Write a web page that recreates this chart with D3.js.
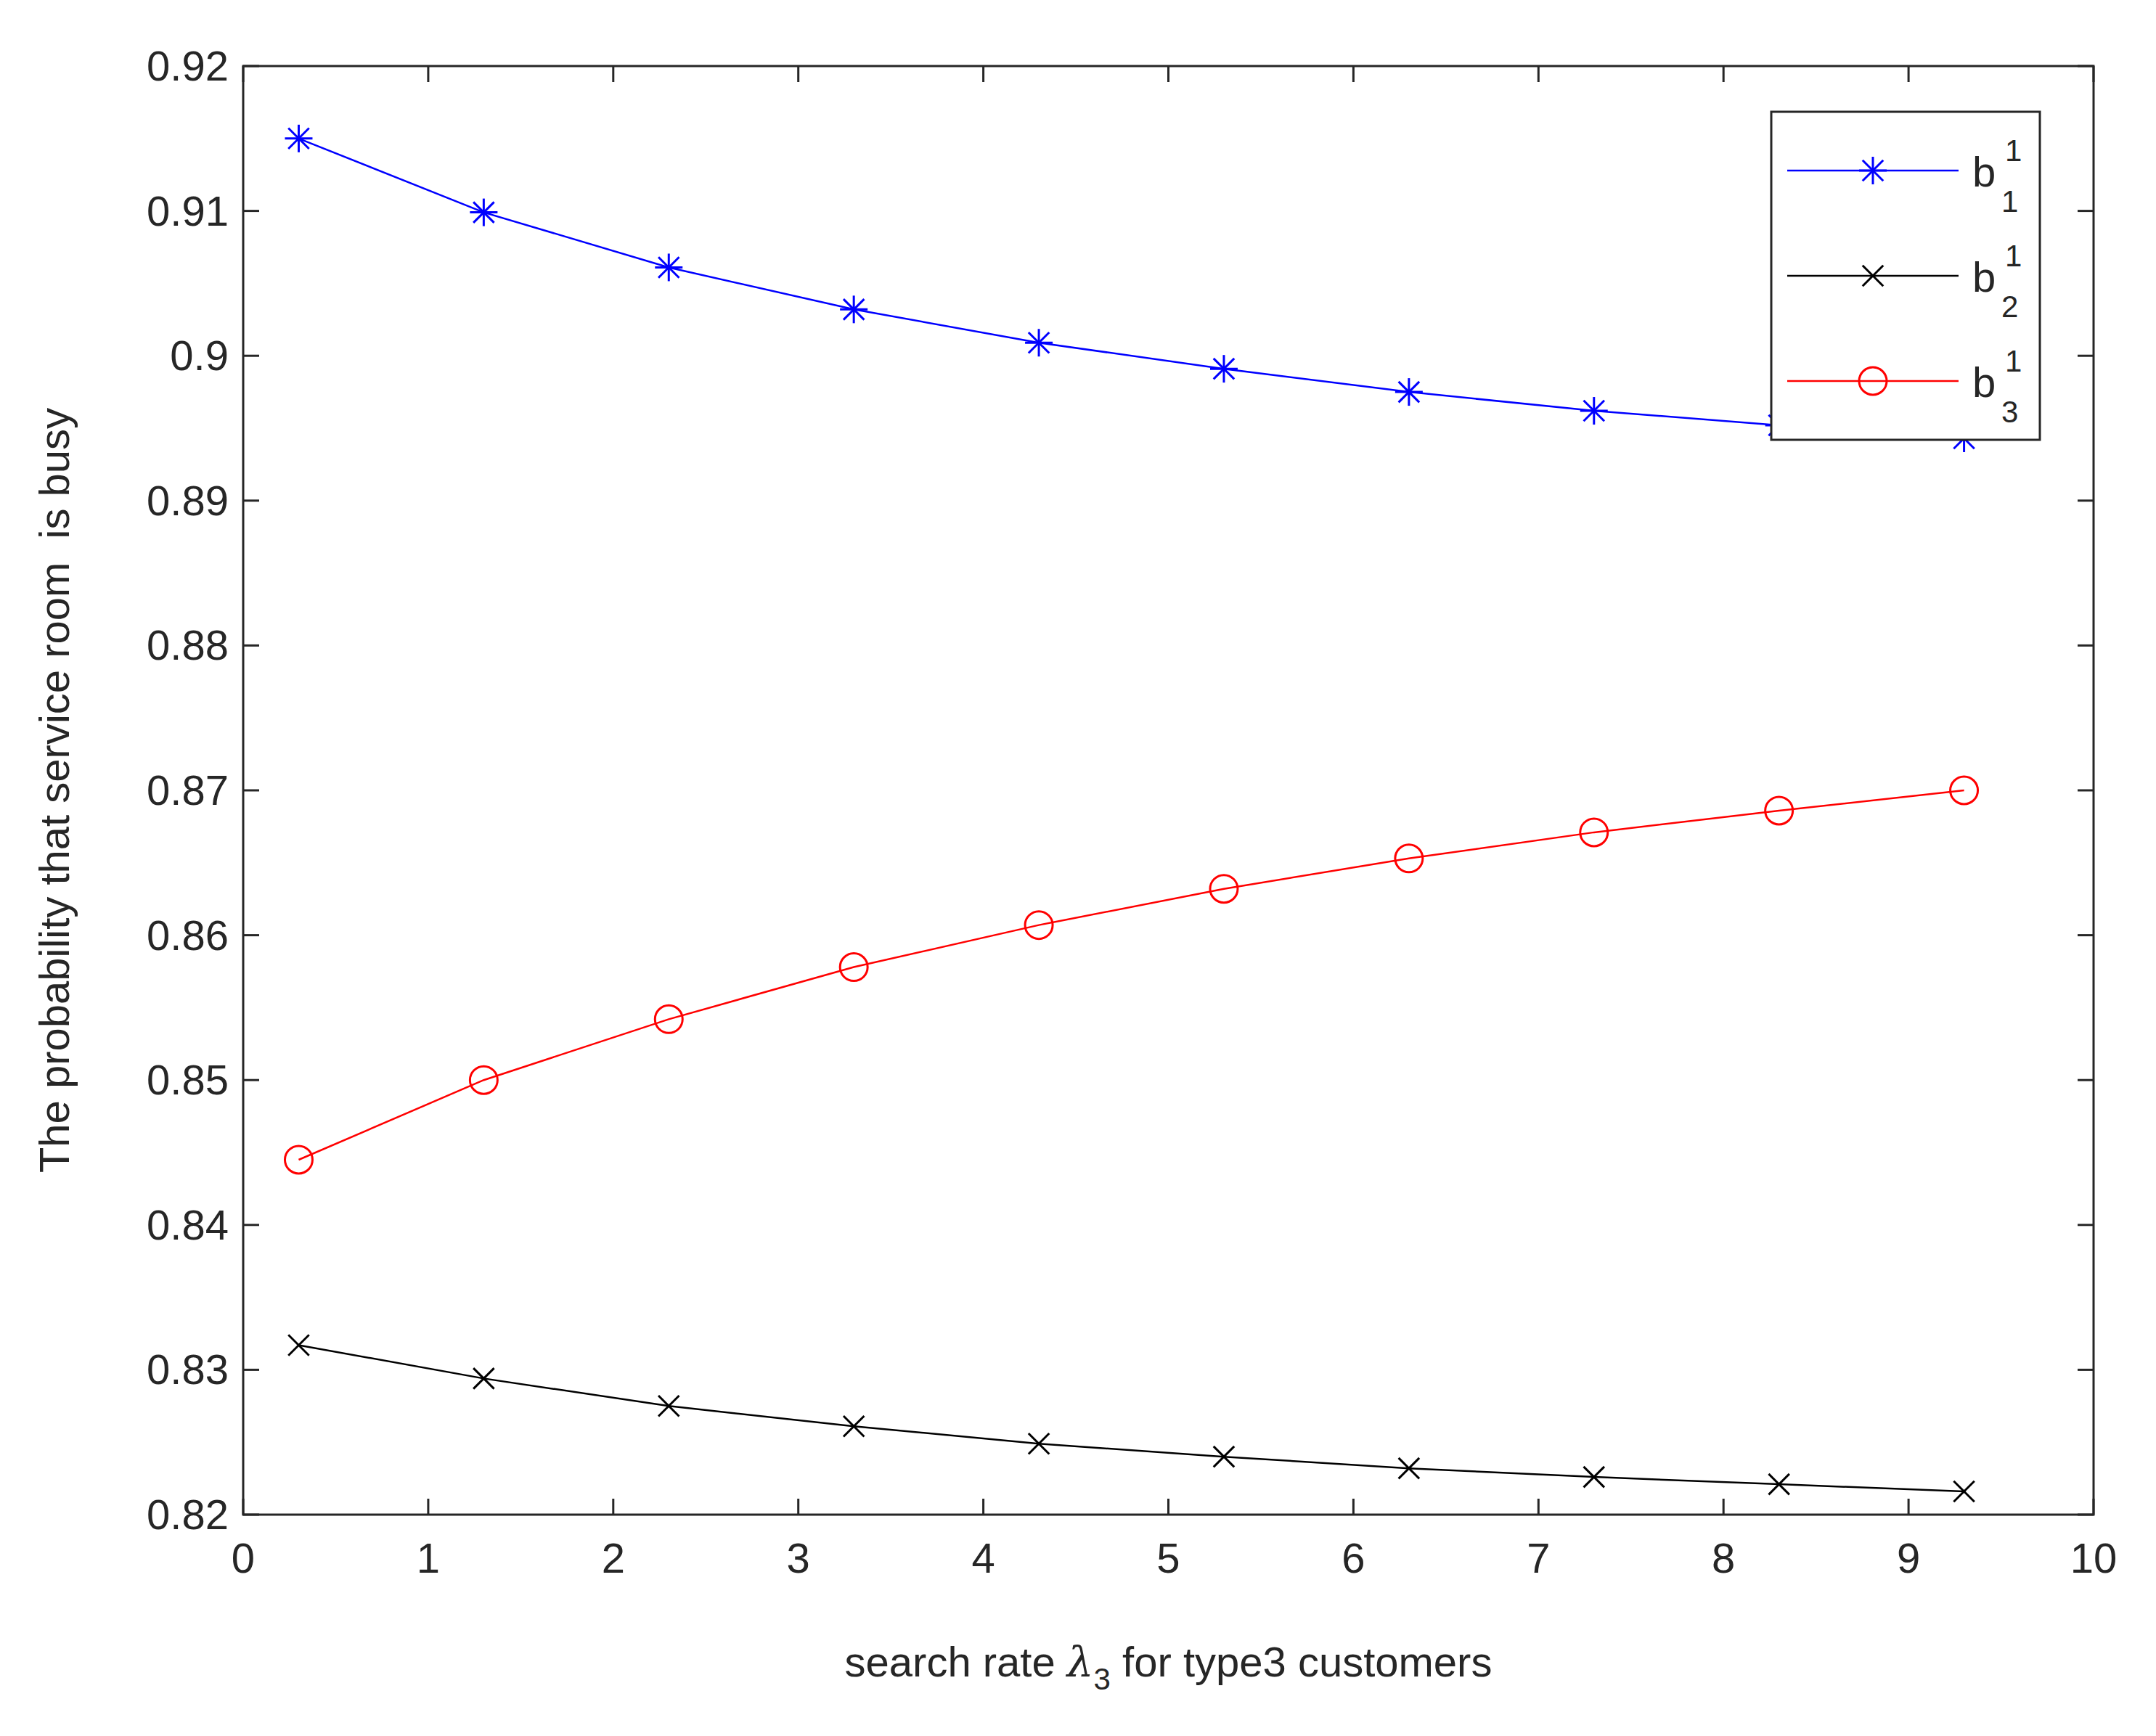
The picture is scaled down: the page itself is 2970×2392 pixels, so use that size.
<!DOCTYPE html>
<html><head><meta charset="utf-8">
<script src="https://cdn.jsdelivr.net/npm/d3@7"></script>
<style>body{margin:0;background:#fff}text{font-family:"Liberation Sans",Arial,sans-serif;fill:#262626}</style>
</head><body><svg id="chart" width="2970" height="2392"></svg>
<script>
const xValues = [0.3, 1.3, 2.3, 3.3, 4.3, 5.3, 6.3, 7.3, 8.3, 9.3];
const b11 = [0.9150, 0.9099, 0.9061, 0.9032, 0.9009, 0.8991, 0.8975, 0.8962, 0.8952, 0.8943];
const b21 = [0.8317, 0.8294, 0.8275, 0.8261, 0.8249, 0.8240, 0.8232, 0.8226, 0.8221, 0.8216];
const b31 = [0.8445, 0.8500, 0.8542, 0.8578, 0.8607, 0.8632, 0.8653, 0.8671, 0.8686, 0.8700];
const xTicks = [0, 1, 2, 3, 4, 5, 6, 7, 8, 9, 10];
const yTicks = [0.82, 0.83, 0.84, 0.85, 0.86, 0.87, 0.88, 0.89, 0.9, 0.91, 0.92];

const plotLeft = 335, plotRight = 2884, plotTop = 91, plotBottom = 2087;
const svg = d3.select("#chart");
const x = d3.scaleLinear().domain([0, 10]).range([plotLeft, plotRight]);
const y = d3.scaleLinear().domain([0.82, 0.92]).range([plotBottom, plotTop]);
const tl = 22, fs = 58;

const series = [
  { name: "1", data: b11, color: "#0000ff", marker: "star" },
  { name: "2", data: b21, color: "#000000", marker: "x" },
  { name: "3", data: b31, color: "#ff0000", marker: "circle" },
];

function drawMarker(g, type, cx, cy, color) {
  const r = 19;
  if (type === "circle") {
    g.append("circle").attr("cx", cx).attr("cy", cy).attr("r", r)
      .attr("fill", "none").attr("stroke", color).attr("stroke-width", 3);
    return;
  }
  const segs = [[-r * 0.75, -r * 0.75, r * 0.75, r * 0.75], [-r * 0.75, r * 0.75, r * 0.75, -r * 0.75]];
  if (type === "star") segs.push([0, -r, 0, r], [-r, 0, r, 0]);
  segs.forEach(([a, b, c, d]) => g.append("line")
    .attr("x1", cx + a).attr("y1", cy + b).attr("x2", cx + c).attr("y2", cy + d)
    .attr("stroke", color).attr("stroke-width", 3));
}

// lines and markers
const line = d3.line().x((d, i) => x(xValues[i])).y(d => y(d));
series.forEach(s => {
  svg.append("path").attr("d", line(s.data)).attr("fill", "none")
    .attr("stroke", s.color).attr("stroke-width", 2.5);
  const g = svg.append("g");
  s.data.forEach((v, i) => drawMarker(g, s.marker, x(xValues[i]), y(v), s.color));
});

// box and ticks
svg.append("rect").attr("x", plotLeft).attr("y", plotTop).attr("width", plotRight - plotLeft).attr("height", plotBottom - plotTop)
  .attr("fill", "none").attr("stroke", "#262626").attr("stroke-width", 3);
xTicks.forEach(t => {
  svg.append("line").attr("x1", x(t)).attr("x2", x(t)).attr("y1", plotBottom).attr("y2", plotBottom - tl).attr("stroke", "#262626").attr("stroke-width", 3);
  svg.append("line").attr("x1", x(t)).attr("x2", x(t)).attr("y1", plotTop).attr("y2", plotTop + tl).attr("stroke", "#262626").attr("stroke-width", 3);
  svg.append("text").attr("x", x(t)).attr("y", plotBottom + 80).attr("text-anchor", "middle")
    .attr("font-size", fs).text(t);
});
yTicks.forEach(t => {
  svg.append("line").attr("x1", plotLeft).attr("x2", plotLeft + tl).attr("y1", y(t)).attr("y2", y(t)).attr("stroke", "#262626").attr("stroke-width", 3);
  svg.append("line").attr("x1", plotRight).attr("x2", plotRight - tl).attr("y1", y(t)).attr("y2", y(t)).attr("stroke", "#262626").attr("stroke-width", 3);
  svg.append("text").attr("x", plotLeft - 20).attr("y", y(t) + 20).attr("text-anchor", "end")
    .attr("font-size", fs).text(d3.format("~g")(t));
});

// axis labels
const xl = svg.append("text").attr("x", (plotLeft + plotRight) / 2).attr("y", 2310).attr("text-anchor", "middle").attr("font-size", fs);
xl.append("tspan").text("search rate ");
xl.append("tspan").attr("font-family", "DejaVu Serif").attr("font-style", "italic").text("λ");
xl.append("tspan").attr("font-size", 42).attr("dy", 18).text("3");
xl.append("tspan").attr("dy", -18).text(" for type3 customers");
svg.append("text").attr("transform", `translate(95,${(plotTop + plotBottom) / 2}) rotate(-90)`)
  .attr("text-anchor", "middle").attr("font-size", fs).attr("xml:space", "preserve")
  .text("The probability that service room  is busy");

// legend
const lg = svg.append("g");
lg.append("rect").attr("x", 2440).attr("y", 154).attr("width", 370).attr("height", 452)
  .attr("fill", "#fff").attr("stroke", "#262626").attr("stroke-width", 3);
series.forEach((s, i) => {
  const ly = 235 + i * 145;
  lg.append("line").attr("x1", 2462).attr("x2", 2698).attr("y1", ly).attr("y2", ly)
    .attr("stroke", s.color).attr("stroke-width", 2.5);
  drawMarker(lg, s.marker, 2580, ly, s.color);
  const t = lg.append("text").attr("x", 2717).attr("y", ly + 22).attr("font-size", fs);
  t.append("tspan").text("b");
  t.append("tspan").attr("x", 2762).attr("dy", -35).attr("font-size", 42).text("1");
  t.append("tspan").attr("x", 2757).attr("dy", 70).attr("font-size", 42).text(s.name);
});
</script></body></html>
